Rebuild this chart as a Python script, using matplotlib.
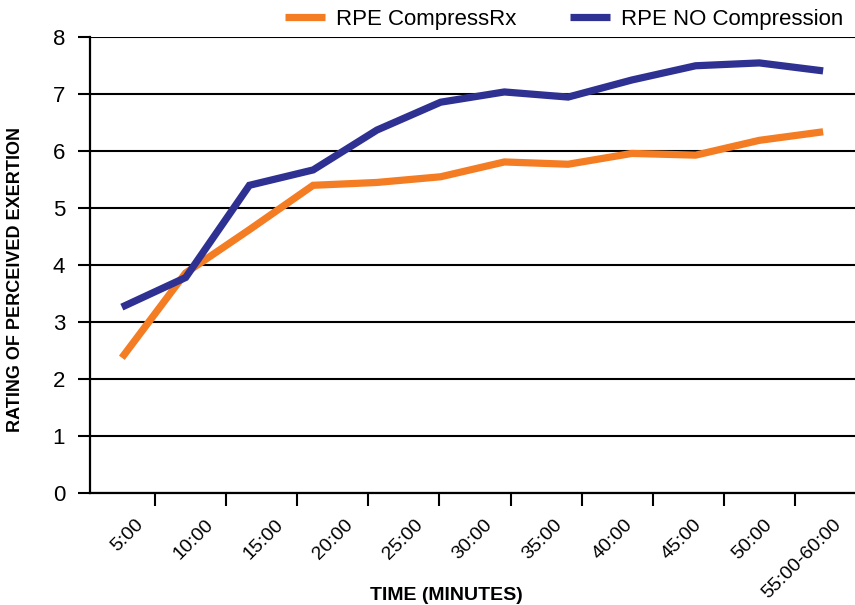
import matplotlib
matplotlib.use("Agg")
import matplotlib.pyplot as plt
import numpy as np

# ---- data ----
time_labels = ["5:00", "10:00", "15:00", "20:00", "25:00", "30:00", "35:00",
               "40:00", "45:00", "50:00", "55:00-60:00"]
rpe_compressrx = [2.37, 3.86, 4.62, 5.40, 5.45, 5.55, 5.81, 5.77, 5.96, 5.93, 6.19, 6.34]
rpe_no_compression = [3.26, 3.78, 5.40, 5.67, 6.37, 6.86, 7.04, 6.95, 7.25, 7.50, 7.55, 7.41]
y_ticks = [0, 1, 2, 3, 4, 5, 6, 7, 8]

ORANGE = "#F47C22"
NAVY = "#2E3192"

plt.rcParams['font.family'] = ['Liberation Sans', 'DejaVu Sans']

W, H = 855, 605
fig = plt.figure(figsize=(W / 100, H / 100), dpi=100)
# axes area in pixels
ax_left, ax_right, ax_top, ax_bottom = 90, 855, 37.3, 492.7
ax = fig.add_axes([ax_left / W, 1 - ax_bottom / H, (ax_right - ax_left) / W, (ax_bottom - ax_top) / H])

n = len(rpe_compressrx)
x = np.arange(n)
ax.plot(x, rpe_compressrx, color=ORANGE, lw=5.2, solid_capstyle='butt', solid_joinstyle='miter',
        label="RPE CompressRx", zorder=3)
ax.plot(x, rpe_no_compression, color=NAVY, lw=5.2, solid_capstyle='butt', solid_joinstyle='miter',
        label="RPE NO Compression", zorder=4)

ax.set_xlim(-0.5, n - 0.5)
ax.set_ylim(0, 8)
ax.set_yticks(y_ticks)
ax.set_yticklabels([str(v) for v in y_ticks], fontsize=16)
ax.grid(axis='y', color='black', lw=1.5, zorder=1)
ax.set_axisbelow(True)

# category axis for the time labels (separate spacing from the data points)
px_per_unit = (ax_right - ax_left) / n
def px_to_data(px):
    return (px - ax_left) / px_per_unit - 0.5

tick_px = 155 + 71.1 * np.arange(len(time_labels) - 1)
label_px = 141 + 69.8 * np.arange(len(time_labels))
ax.set_xticks(px_to_data(tick_px))
ax.set_xticklabels([])
ax.set_xticks(px_to_data(label_px), minor=True)
ax.set_xticklabels(time_labels, minor=True, rotation=45, ha='right', va='center',
                   rotation_mode='anchor', fontsize=14)
ax.tick_params(axis='x', which='major', direction='out', length=9, width=1.5, color='black')
ax.tick_params(axis='x', which='minor', length=0, pad=21)
ax.tick_params(axis='y', direction='out', length=9, width=1.5, pad=9)

for s in ['top', 'right']:
    ax.spines[s].set_visible(False)
ax.spines['left'].set_linewidth(1.6)
ax.spines['bottom'].set_linewidth(1.6)

fig.text(446 / W, 1 - 596 / H, "TIME (MINUTES)", ha='center', va='center',
         fontsize=14, fontweight='bold')
fig.text(16 / W, 1 - 279 / H, "RATING OF PERCEIVED EXERTION", ha='center', va='center',
         rotation=90, fontsize=13, fontweight='bold')

fig.legend(loc='center', bbox_to_anchor=(564 / W, 1 - 19 / H), ncol=2, frameon=False,
           fontsize=16, handlelength=1.8, handletextpad=0.5, columnspacing=2.4,
           borderpad=0, borderaxespad=0)

fig.savefig("out.png", dpi=100)
